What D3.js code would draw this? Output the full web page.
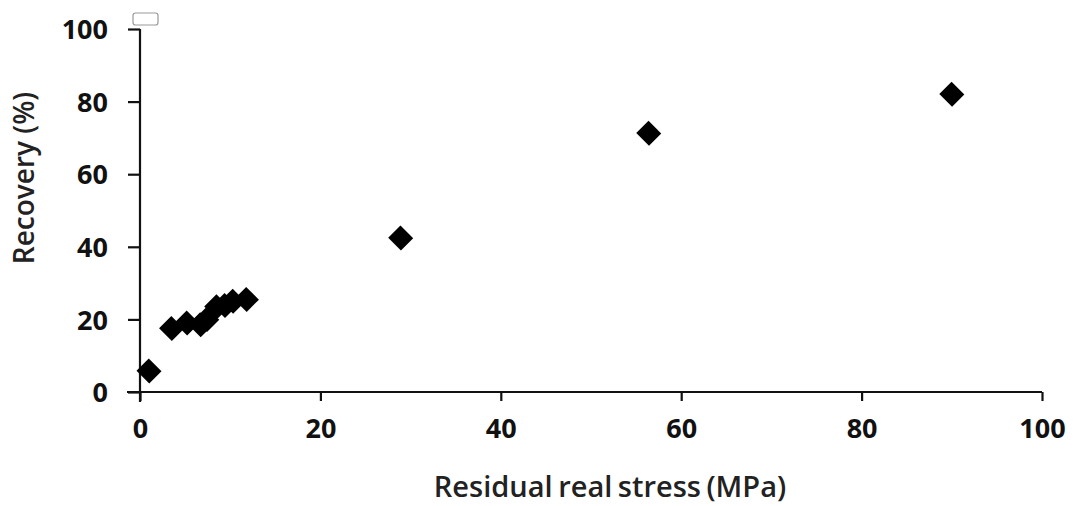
<!DOCTYPE html>
<html>
<head>
<meta charset="utf-8">
<script src="https://cdn.jsdelivr.net/npm/d3@7"></script>
<style>
  html, body { margin: 0; padding: 0; background: #fff; }
  svg { display: block; }
  .tick text { font-family: "Open Sans", Lato, sans-serif; font-weight: 700; fill: #111; }
</style>
</head>
<body>
<svg id="chart" width="1073" height="506"></svg>
<script>
// Residual real stress (MPa) vs. recovery (%)
const stress   = [1.0, 3.5, 5.2, 6.7, 7.4, 8.5, 9.4, 10.3, 11.8, 28.9, 56.4, 90.0];
const recovery = [5.8, 17.5, 19.0, 18.5, 20.0, 23.5, 23.8, 25.0, 25.5, 42.4, 71.3, 82.0];
const xTicks = [0, 20, 40, 60, 80, 100];
const yTicks = [0, 20, 40, 60, 80, 100];

const points = stress.map((s, i) => ({ x: s, y: recovery[i] }));

const svg = d3.select("#chart");
const plotLeft = 140, plotRight = 1042, plotTop = 29, plotBottom = 392;

const x = d3.scaleLinear().domain([0, 100]).range([plotLeft, plotRight]);
const y = d3.scaleLinear().domain([0, 100]).range([plotBottom, plotTop]);

// x axis
const gx = svg.append("g")
  .attr("transform", `translate(0,${plotBottom})`)
  .call(d3.axisBottom(x).tickValues(xTicks).tickSizeInner(9).tickSizeOuter(0).tickPadding(18));
gx.select(".domain").attr("stroke", "#111").attr("stroke-width", 2.2)
  .attr("d", `M${plotLeft - 13},0H${plotRight}`);
gx.selectAll(".tick line").attr("stroke", "#111").attr("stroke-width", 2.2);
gx.selectAll(".tick text").style("font-size", "27px");

// y axis
const gy = svg.append("g")
  .attr("transform", `translate(${plotLeft},0)`)
  .call(d3.axisLeft(y).tickValues(yTicks).tickSizeInner(12).tickSizeOuter(0).tickPadding(20));
gy.select(".domain").attr("stroke", "#111").attr("stroke-width", 2.2)
  .attr("d", `M0,${plotTop}V${plotBottom + 10}`);
gy.selectAll(".tick line").attr("stroke", "#111").attr("stroke-width", 2.2);
gy.selectAll(".tick text").style("font-size", "27px").attr("dy", "0.36em");

// empty legend box
svg.append("rect")
  .attr("x", 133).attr("y", 13).attr("width", 25).attr("height", 12)
  .attr("rx", 2.5).attr("fill", "#fff").attr("stroke", "#9a9a9a").attr("stroke-width", 1.2);

// diamond markers
const diamond = d3.symbol().type(d3.symbolSquare).size(300);
svg.append("g").selectAll("path")
  .data(points)
  .join("path")
  .attr("d", diamond)
  .attr("transform", d => `translate(${x(d.x)},${y(d.y)}) rotate(45) scale(1.04,1.0)`)
  .attr("fill", "#000");

// axis titles
svg.append("text")
  .attr("x", 610).attr("y", 497)
  .attr("text-anchor", "middle")
  .style("font-family", "'Open Sans', Lato, sans-serif")
  .style("font-weight", 600)
  .style("font-size", "29px")
  .style("word-spacing", "-2px")
  .attr("fill", "#222")
  .text("Residual real stress (MPa)");

svg.append("text")
  .attr("transform", "translate(34,178) rotate(-90)")
  .attr("text-anchor", "middle")
  .style("font-family", "'Open Sans', Lato, sans-serif")
  .style("font-weight", 600)
  .style("font-size", "28px")
  .attr("fill", "#222")
  .text("Recovery (%)");
</script>
</body>
</html>
